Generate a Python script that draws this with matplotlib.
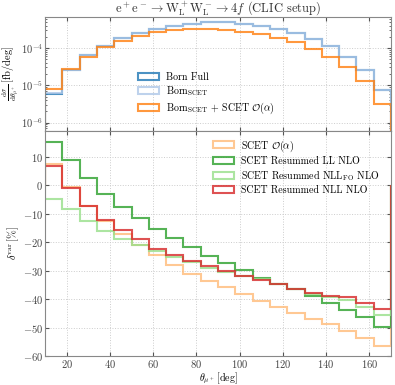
import numpy as np
import matplotlib
matplotlib.use('Agg')
import matplotlib.pyplot as plt
from matplotlib.patches import Patch

plt.rcParams['font.family'] = 'serif'
plt.rcParams['font.serif'] = ['cmr10']
plt.rcParams['mathtext.fontset'] = 'cm'
plt.rcParams['axes.formatter.use_mathtext'] = True
plt.rcParams['axes.unicode_minus'] = True

# theta bin edges [deg]
edges = [10, 18, 26, 34, 42, 50, 58, 66, 74, 82, 90, 98, 106, 114, 122, 130, 138, 146, 154, 162, 170]

# top panel: dsigma/dtheta [fb/deg]
born_full = [6.0e-6, 2.5e-5, 6.3e-5, 1.15e-4, 1.82e-4, 2.45e-4, 3.24e-4, 3.89e-4, 4.47e-4, 4.9e-4,
             4.9e-4, 4.47e-4, 3.89e-4, 3.24e-4, 2.5e-4, 1.78e-4, 1.1e-4, 5.75e-5, 2.5e-5, 7.4e-6]
born_scet = [6.1e-6, 2.5e-5, 6.3e-5, 1.15e-4, 1.82e-4, 2.45e-4, 3.24e-4, 3.89e-4, 4.47e-4, 4.9e-4,
             4.9e-4, 4.47e-4, 3.89e-4, 3.24e-4, 2.5e-4, 1.78e-4, 1.1e-4, 5.75e-5, 2.5e-5, 7.4e-6]
born_scet_oa = [7.9e-6, 2.75e-5, 5.9e-5, 1.05e-4, 1.55e-4, 2.04e-4, 2.7e-4, 3.0e-4, 3.16e-4, 3.24e-4,
                3.1e-4, 2.7e-4, 2.35e-4, 1.9e-4, 1.45e-4, 9.5e-5, 5.75e-5, 3.0e-5, 1.29e-5, 3.2e-6]

# bottom panel: delta^var [%]
scet_oa = [7.4, -0.7, -7.3, -12.7, -17.1, -20.9, -24.6, -28.1, -31.0, -33.7,
           -35.9, -38.3, -40.6, -42.6, -44.7, -46.8, -48.7, -51.2, -53.7, -56.3]
ll_nlo = [15.3, 8.7, 2.5, -2.9, -7.5, -11.6, -15.4, -18.6, -21.7, -24.7,
          -27.3, -29.6, -32.4, -34.7, -36.6, -38.9, -41.2, -43.8, -46.4, -49.6]
nll_fo_nlo = [-4.7, -8.5, -12.5, -16.0, -18.9, -20.9, -23.2, -25.2, -27.0, -29.0,
              -30.5, -32.0, -32.9, -34.5, -36.3, -38.2, -39.1, -40.3, -42.8, -45.5]
nll_nlo = [6.9, -0.9, -7.3, -12.3, -15.8, -19.0, -22.4, -24.4, -26.6, -28.5,
           -30.2, -31.8, -33.3, -34.7, -36.5, -37.7, -38.8, -39.1, -41.2, -43.5]

fig, (ax1, ax2) = plt.subplots(2, 1, sharex=True, figsize=(3.95, 3.85), dpi=100,
                               gridspec_kw={'height_ratios': [1, 1.97], 'hspace': 0})
fig.subplots_adjust(left=0.114, right=0.99, top=0.956, bottom=0.075)

lw = 1.5
alpha = 0.8


def step_plot(ax, vals, color, label, base):
    ax.stairs(vals, edges, baseline=base, color=color, lw=lw, alpha=alpha)
    return Patch(facecolor='none', edgecolor=color, lw=lw, alpha=alpha, label=label)


h1 = [step_plot(ax1, born_full, '#1f77b4', 'Born Full', 1e-8),
      step_plot(ax1, born_scet, '#aec7e8', r'Born$_\mathrm{SCET}$', 1e-8),
      step_plot(ax1, born_scet_oa, '#ff7f0e', r'Born$_\mathrm{SCET}$ + SCET $\mathcal{O}(\alpha)$', 1e-8)]
ax1.set_yscale('log')
ax1.set_ylim(5.9e-7, 6.8e-4)
ax1.set_ylabel(r'$\frac{\mathrm{d}\sigma}{\mathrm{d}\theta_{\mu^+}}\,[\mathrm{fb/deg}]$', fontsize=7.5, labelpad=0)
ax1.set_title(r'$\mathrm{e^+e^-} \rightarrow \mathrm{W_L^+W_L^-} \rightarrow 4f$ (CLIC setup)',
              fontsize=9, color='#333333', pad=3)
ax1.legend(handles=h1, loc='lower left', bbox_to_anchor=(0.25, 0.08), frameon=False, fontsize=7.2,
           handlelength=2.1, handletextpad=0.75, labelspacing=0.25, borderaxespad=0.2)

h2 = [step_plot(ax2, scet_oa, '#ffbb78', r'SCET $\mathcal{O}(\alpha)$', 0),
      step_plot(ax2, ll_nlo, '#2ca02c', 'SCET Resummed LL NLO', 0),
      step_plot(ax2, nll_fo_nlo, '#98df8a', r'SCET Resummed NLL$_\mathrm{FO}$ NLO', 0),
      step_plot(ax2, nll_nlo, '#d62728', 'SCET Resummed NLL NLO', 0)]
ax2.set_ylim(-60, 19)
ax2.set_xlim(10, 170)
ax2.set_yticks(np.arange(-60, 11, 10))
ax2.set_xticks(np.arange(20, 161, 20))
ax2.set_ylabel(r'$\delta^{\mathrm{var}}\,[\%]$', fontsize=7.5, labelpad=1)
ax2.set_xlabel(r'$\theta_{\mu^+}\,[\mathrm{deg}]$', fontsize=7.2, labelpad=0)
ax2.legend(handles=h2, loc='upper right', bbox_to_anchor=(0.985, 0.995), frameon=False, fontsize=7.2,
           handlelength=2.1, handletextpad=0.75, labelspacing=0.25, borderaxespad=0.2)

for ax in (ax1, ax2):
    ax.grid(True, which='major', ls=':', color='#cccccc', lw=0.7)
    ax.tick_params(which='both', direction='in', top=True, right=True, labelsize=7.6,
                   colors='#555555', labelcolor='#444444', pad=1.5)
    ax.tick_params(which='major', length=3)
    ax.tick_params(which='minor', length=1.5)
    for s in ax.spines.values():
        s.set_color('#888888')
    ax.set_axisbelow(True)

fig.savefig('out.png', dpi=100)
